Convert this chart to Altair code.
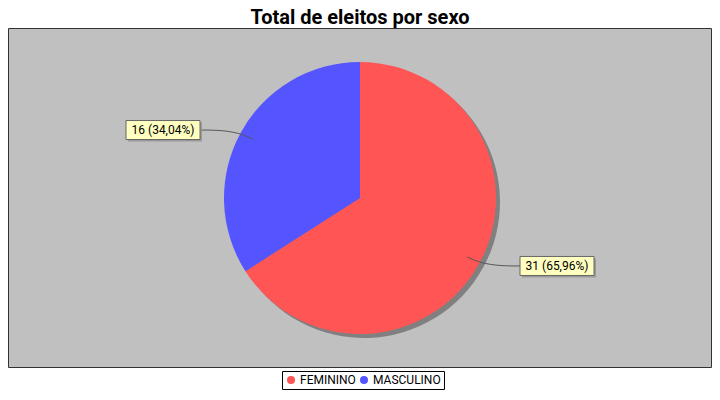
import altair as alt
import pandas as pd
import numpy as np

# ---- data ----
sexo = ["FEMININO", "MASCULINO"]
eleitos = [31, 16]
cores = ["#FF5555", "#5555FF"]
titulo = "Total de eleitos por sexo"

# ---- layout constants ----
W, H = 704, 384
CX, CY, R = 352, 190, 136
BOX_W, BOX_H = 74, 19
FONT = "Roboto"

df = pd.DataFrame({"sexo": sexo, "eleitos": eleitos})
total = df["eleitos"].sum()
df["pct"] = df["eleitos"] / total * 100
df["rotulo"] = [f"{v} ({p:.2f}%)".replace(".", ",") for v, p in zip(df["eleitos"], df["pct"])]
df["ordem"] = range(len(df))
mid = (df["eleitos"].cumsum() - df["eleitos"] / 2) / total * 2 * np.pi
s, c = np.sin(mid), np.cos(mid)
side = np.sign(s)
df["ly"] = CY - 1.04 * R * c
edge = CX + side * 160
df["x0"] = np.where(side > 0, edge, edge - BOX_W)
df["x1"] = np.where(side > 0, edge + BOX_W, edge)
df["y0"] = df["ly"] - BOX_H / 2
df["y1"] = df["ly"] + BOX_H / 2
df["xs0"] = df["x0"] + 2
df["xs1"] = df["x1"] + 2
df["ys0"] = df["y0"] + 2
df["ys1"] = df["y1"] + 2
df["tx"] = (df["x0"] + df["x1"]) / 2

# connector curves (cubic bezier from slice to label)
rows = []
for i in range(len(df)):
    p0 = np.array([CX + 0.9 * R * s[i], CY - 0.9 * R * c[i]])
    p1 = np.array([CX + 1.03 * R * s[i], CY - 1.03 * R * c[i]])
    p3 = np.array([edge[i], df["ly"][i]])
    p2 = np.array([edge[i] - side[i] * 20, df["ly"][i]])
    for t in np.linspace(0, 1, 20):
        p = (1 - t) ** 3 * p0 + 3 * (1 - t) ** 2 * t * p1 + 3 * (1 - t) * t ** 2 * p2 + t ** 3 * p3
        rows.append({"sexo": sexo[i], "t": t, "px": p[0], "py": p[1]})
links = pd.DataFrame(rows)

one = pd.DataFrame({"a": [0]})

background = alt.Chart(one).mark_rect(fill="#C0C0C0", stroke="#333333", strokeWidth=1).encode(
    x=alt.value(0.5), x2=alt.value(W - 0.5), y=alt.value(20.5), y2=alt.value(359.5)
)

title = alt.Chart(one).mark_text(
    text=titulo, font=FONT, fontSize=20, fontWeight="bold", color="black",
    align="center", baseline="alphabetic"
).encode(x=alt.value(CX), y=alt.value(16))

shadow = alt.Chart(df).mark_arc(radius=R, color="#808080").encode(
    theta=alt.Theta("eleitos:Q", stack=True),
    order=alt.Order("ordem:Q"),
    x=alt.value(CX + 4), y=alt.value(CY + 4),
)

pie = alt.Chart(df).mark_arc(radius=R).encode(
    theta=alt.Theta("eleitos:Q", stack=True),
    order=alt.Order("ordem:Q"),
    color=alt.Color(
        "sexo:N",
        scale=alt.Scale(domain=sexo, range=cores),
        legend=alt.Legend(
            orient="none", legendX=274, legendY=363, direction="horizontal", title=None,
            symbolType="circle", symbolSize=64, symbolStrokeWidth=0, symbolOpacity=1,
            labelFont=FONT, labelFontSize=12, labelColor="black",
            strokeColor="black", fillColor="white", padding=3, columnPadding=2,
            labelOffset=3,
        ),
    ),
    x=alt.value(CX), y=alt.value(CY),
)

link = alt.Chart(links).mark_line(color="#555555", strokeWidth=1).encode(
    x=alt.X("px:Q", scale=None, axis=None),
    y=alt.Y("py:Q", scale=None, axis=None),
    detail="sexo:N",
    order="t:Q",
)

box_shadow = alt.Chart(df).mark_rect(fill="#9A9A9A").encode(
    x=alt.X("xs0:Q", scale=None, axis=None), x2="xs1:Q",
    y=alt.Y("ys0:Q", scale=None, axis=None), y2="ys1:Q",
)

box = alt.Chart(df).mark_rect(fill="#FFFFC0", stroke="#666666", strokeWidth=1).encode(
    x=alt.X("x0:Q", scale=None, axis=None), x2="x1:Q",
    y=alt.Y("y0:Q", scale=None, axis=None), y2="y1:Q",
)

label = alt.Chart(df).mark_text(font=FONT, fontSize=12, color="black", align="center", baseline="middle").encode(
    x=alt.X("tx:Q", scale=None, axis=None),
    y=alt.Y("ly:Q", scale=None, axis=None),
    text="rotulo:N",
)

chart = alt.layer(background, title, shadow, pie, link, box_shadow, box, label).properties(
    width=W, height=H, padding=0, autosize=alt.AutoSizeParams(type="none"), background="white"
).configure_view(stroke=None)

chart.save("out.html", embed_options={"renderer": "svg", "actions": False})
